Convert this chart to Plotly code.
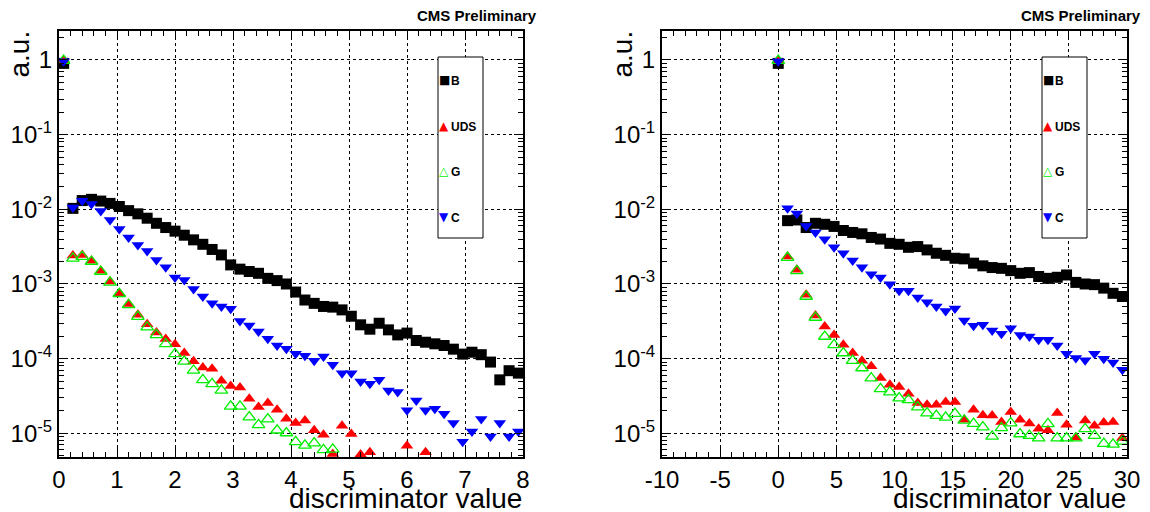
import numpy as np
import plotly.graph_objects as go

# ---------------- data ----------------
# left panel: 50 bins of width 0.16 on [0, 8]
left_edges = np.linspace(0, 8, 51)
left_x = list(np.round(0.5 * (left_edges[:-1] + left_edges[1:]), 3))

B_left = [0.9, 0.0103, 0.0131, 0.0136, 0.0129, 0.0120, 0.0109, 0.0096, 0.0087, 0.0076,
          0.0065, 0.0057, 0.0051, 0.0045, 0.0039, 0.0034, 0.0029, 0.00245, 0.0018, 0.00158,
          0.00147, 0.00139, 0.00119, 0.00111, 0.00100, 0.00078, 6.1e-4, 5.5e-4, 5.0e-4, 4.9e-4,
          4.5e-4, 3.7e-4, 2.84e-4, 2.48e-4, 2.98e-4, 2.43e-4, 2.08e-4, 2.2e-4, 1.75e-4, 1.66e-4,
          1.58e-4, 1.5e-4, 1.34e-4, 1.15e-4, 1.22e-4, 1.13e-4, 9.0e-5, 5.2e-5, 6.9e-5, 6.4e-5]
UDS_left = [0.97, 2.4e-3, 2.45e-3, 2.04e-3, 1.5e-3, 1.08e-3, 7.5e-4, 5.4e-4, 3.86e-4, 2.9e-4,
            2.24e-4, 1.84e-4, 1.56e-4, 1.19e-4, 9.2e-5, 7.6e-5, 7.3e-5, 5.06e-5, 4.3e-5, 4.1e-5,
            2.9e-5, 2.25e-5, 2.54e-5, 2.07e-5, 1.57e-5, 1.37e-5, 1.49e-5, 1.1e-5, 9.6e-6, 5.3e-6,
            1.26e-5, 9.8e-6, 5.2e-6, 5.6e-6, None, None, None, 6.8e-6, None, 5.6e-6,
            None, None, None, None, None, None, None, None, None, None]
G_left = [0.98, 2.2e-3, 2.33e-3, 2.0e-3, 1.47e-3, 1.05e-3, 7.4e-4, 5.25e-4, 3.66e-4, 2.64e-4,
          2.08e-4, 1.58e-4, 1.16e-4, 9.2e-5, 6.95e-5, 5.2e-5, 4.6e-5, 3.76e-5, 2.3e-5, 2.3e-5,
          1.65e-5, 1.3e-5, 1.55e-5, 1.1e-5, 1.01e-5, 7.7e-6, 6.9e-6, 7.4e-6, 6.0e-6, 6.1e-6,
          None, None, None, None, None, None, None, None, None, None,
          None, None, None, None, None, None, None, None, None, None]
C_left = [0.96, 0.0106, 0.013, 0.0118, 0.0095, 0.0072, 0.00546, 0.00418, 0.00333, 0.00277,
          0.0021, 0.00168, 0.00122, 0.00113, 8.6e-4, 6.8e-4, 5.5e-4, 5.0e-4, 4.65e-4, 3.2e-4,
          2.78e-4, 2.31e-4, 1.85e-4, 1.5e-4, 1.36e-4, 1.16e-4, 1.09e-4, 9.4e-5, 1.07e-4, 8.3e-5,
          6.4e-5, 6.4e-5, 4.96e-5, 4.6e-5, 5.2e-5, 3.76e-5, 3.57e-5, 2.03e-5, 2.76e-5, 2.03e-5,
          2.14e-5, 1.83e-5, 1.37e-5, 7.7e-6, 1.06e-5, 1.55e-5, 9.1e-6, 1.37e-5, 9.1e-6, 1.06e-5]

# right panel: bins of width 0.8 starting at 0
right_x = list(np.round(0.8 * np.arange(38), 2))

B_right = [0.9, 7.05e-3, 7.2e-3, 5.7e-3, 6.5e-3, 6.3e-3, 5.9e-3, 5.2e-3, 4.9e-3, 4.7e-3,
           4.2e-3, 4.0e-3, 3.5e-3, 3.4e-3, 3.1e-3, 3.17e-3, 2.86e-3, 2.58e-3, 2.42e-3, 2.21e-3,
           2.17e-3, 1.9e-3, 1.75e-3, 1.66e-3, 1.62e-3, 1.51e-3, 1.39e-3, 1.42e-3, 1.26e-3, 1.19e-3,
           1.23e-3, 1.32e-3, 1.05e-3, 1.0e-3, 9.8e-4, 8.8e-4, 7.5e-4, 6.8e-4]
UDS_right = [0.97, 2.33e-3, 1.55e-3, 7.15e-4, 3.78e-4, 2.7e-4, 2.08e-4, 1.53e-4, 1.19e-4, 9.4e-5,
             7.9e-5, 5.5e-5, 4.47e-5, 4.16e-5, 3.39e-5, 2.54e-5, 2.41e-5, 2.41e-5, 2.62e-5, 2.62e-5,
             1.52e-5, 2.07e-5, 1.74e-5, 1.73e-5, 1.42e-5, 1.93e-5, 1.52e-5, 1.35e-5, 1.15e-5, 1.1e-5,
             1.87e-5, 1.3e-5, 8.8e-6, 1.49e-5, 1.26e-5, 1.4e-5, 1.42e-5, 8.65e-6]
G_right = [0.98, 2.25e-3, 1.5e-3, 6.8e-4, 3.56e-4, 1.98e-4, 1.53e-4, 1.19e-4, 9.4e-5, 7.5e-5,
           5.5e-5, 3.95e-5, 3.57e-5, 2.96e-5, 2.8e-5, 2.25e-5, 1.87e-5, 1.73e-5, 1.64e-5, 1.84e-5,
           1.49e-5, 1.35e-5, 1.21e-5, 9.1e-6, 1.18e-5, 1.37e-5, 9.8e-6, 9.3e-6, 8.65e-6, 1.34e-5,
           8.65e-6, 8.65e-6, 8.65e-6, 1.15e-5, 9.3e-6, 7.3e-6, 7.1e-6, 7.8e-6]
C_right = [0.96, 0.0103, 8.8e-3, 5.98e-3, 4.88e-3, 3.97e-3, 3.1e-3, 2.58e-3, 2.06e-3, 1.68e-3,
           1.35e-3, 1.22e-3, 9.9e-4, 8.1e-4, 8.1e-4, 6.6e-4, 5.7e-4, 5.0e-4, 4.35e-4, 4.7e-4,
           3.24e-4, 2.75e-4, 2.84e-4, 2.38e-4, 2.15e-4, 2.56e-4, 2.08e-4, 1.98e-4, 1.79e-4, 1.79e-4,
           1.5e-4, 1.16e-4, 1.02e-4, 9.5e-5, 1.16e-4, 9.95e-5, 8.9e-5, 7.1e-5]

series_names = ["B", "UDS", "G", "C"]
y_tick_vals = [1e-5, 1e-4, 1e-3, 1e-2, 1e-1, 1]
y_tick_text = ["10<sup>-5</sup>", "10<sup>-4</sup>", "10<sup>-3</sup>", "10<sup>-2</sup>",
               "10<sup>-1</sup>", "1"]
x2_tick_vals = [-10, -5, 0, 5, 10, 15, 20, 25, 30]
x2_tick_text = ["-10", "-5", "0", "5", "10", "15", "20", "25", "30"]

# ---------------- styling ----------------
W, H = 1150, 512
FONT = "Liberation Sans, Arial, Helvetica, sans-serif"
styles = {
    "B": dict(symbol="square", size=11, color="black", line=dict(width=0)),
    "UDS": dict(symbol="triangle-up", size=11, color="#ff0000", line=dict(width=0)),
    "G": dict(symbol="triangle-up-open", size=11, color="#00ee00", line=dict(width=1.3, color="#00ee00")),
    "C": dict(symbol="triangle-down", size=11, color="#0000ff", line=dict(width=0)),
}

fig = go.Figure()
panels = [
    ("x", "y", left_x, dict(B=B_left, UDS=UDS_left, G=G_left, C=C_left)),
    ("x2", "y2", right_x, dict(B=B_right, UDS=UDS_right, G=G_right, C=C_right)),
]
for xa, ya, xs, d in panels:
    for name in series_names:
        fig.add_trace(go.Scatter(x=xs, y=d[name], mode="markers", name=name,
                                 marker=styles[name], xaxis=xa, yaxis=ya,
                                 showlegend=False, cliponaxis=True))

# panel geometry (pixels)
L_x0, L_x1 = 59, 523
R_x0, R_x1 = 662, 1127
P_top, P_bot = 31, 457
dom_y = [1 - P_bot / H, 1 - P_top / H]

minor_y = [m * 10.0 ** e for e in range(-6, 1) for m in range(2, 10)]
yrange = [-5.317, 0.388]

common_ax = dict(showline=True, linecolor="black", linewidth=2, mirror="ticks",
                 ticks="inside", ticklen=9, tickwidth=1, tickcolor="black",
                 showgrid=True, gridcolor="black", griddash="dot", gridwidth=1,
                 zeroline=False, automargin=False,
                 tickfont=dict(family=FONT, size=24, color="black"))

yaxis_cfg = dict(common_ax, type="log", range=yrange, tickmode="array",
                 tickvals=y_tick_vals, ticktext=y_tick_text,
                 minor=dict(tickvals=minor_y, ticks="inside", ticklen=5,
                            tickcolor="black", showgrid=False))

fig.update_layout(
    width=W, height=H, margin=dict(l=0, r=0, t=0, b=0, autoexpand=False),
    paper_bgcolor="white", plot_bgcolor="white",
    font=dict(family=FONT, color="black"),
    xaxis=dict(common_ax, domain=[L_x0 / W, L_x1 / W], range=[0, 8], dtick=1, tick0=0,
               minor=dict(dtick=0.2, ticks="inside", ticklen=5, tickcolor="black", showgrid=False),
               anchor="y"),
    yaxis=dict(yaxis_cfg, domain=dom_y, anchor="x"),
    xaxis2=dict(common_ax, domain=[R_x0 / W, R_x1 / W], range=[-10, 30],
                tickmode="array", tickvals=x2_tick_vals, ticktext=x2_tick_text,
                minor=dict(dtick=1, tick0=0, ticks="inside", ticklen=5, tickcolor="black",
                           showgrid=False),
                anchor="y2"),
    yaxis2=dict(yaxis_cfg, domain=dom_y, anchor="x2"),
)

ann = []
shapes = []
for (x0, x1, leg_x0) in [(L_x0, L_x1, 438), (R_x0, R_x1, 1042)]:
    # axis titles
    ann.append(dict(text="discriminator value", xref="paper", yref="paper",
                    x=(x1 + 1) / W, y=0.0, xanchor="right", yanchor="bottom", yshift=-4,
                    showarrow=False, font=dict(family=FONT, size=28, color="black")))
    ann.append(dict(text="a.u.", xref="paper", yref="paper", textangle=-90,
                    x=(x0 - 40) / W, y=1 - 29 / H, xanchor="center", yanchor="top",
                    showarrow=False, font=dict(family=FONT, size=28, color="black")))
    ann.append(dict(text="<b>CMS Preliminary</b>", xref="paper", yref="paper",
                    x=(x1 + 16) / W, y=1 - 15 / H, xanchor="right", yanchor="middle",
                    showarrow=False, font=dict(family=FONT, size=15, color="black")))
    # legend box
    shapes.append(dict(type="rect", xref="paper", yref="paper",
                       x0=leg_x0 / W, x1=(leg_x0 + 45) / W, y0=1 - 238 / H, y1=1 - 57 / H,
                       line=dict(color="black", width=1), fillcolor="white", layer="above"))
    glyphs = {"B": ("\u25A0", "black"), "UDS": ("\u25B2", "#ff0000"),
              "G": ("\u25B3", "#00ee00"), "C": ("\u25BC", "#0000ff")}
    for k, name in enumerate(series_names):
        yy = 80 + 45.7 * k
        g, col = glyphs[name]
        ann.append(dict(text=g, xref="paper", yref="paper", x=(leg_x0 + 6) / W,
                        y=1 - yy / H, xanchor="center", yanchor="middle", showarrow=False,
                        font=dict(family="DejaVu Sans", size=12, color=col)))
        ann.append(dict(text="<b>" + name + "</b>", xref="paper", yref="paper",
                        x=(leg_x0 + 11) / W, y=1 - (yy + 1) / H, xanchor="left",
                        yanchor="middle", showarrow=False,
                        font=dict(family=FONT, size=12, color="black")))

fig.update_layout(annotations=ann, shapes=shapes)
fig.write_html("out.html")
